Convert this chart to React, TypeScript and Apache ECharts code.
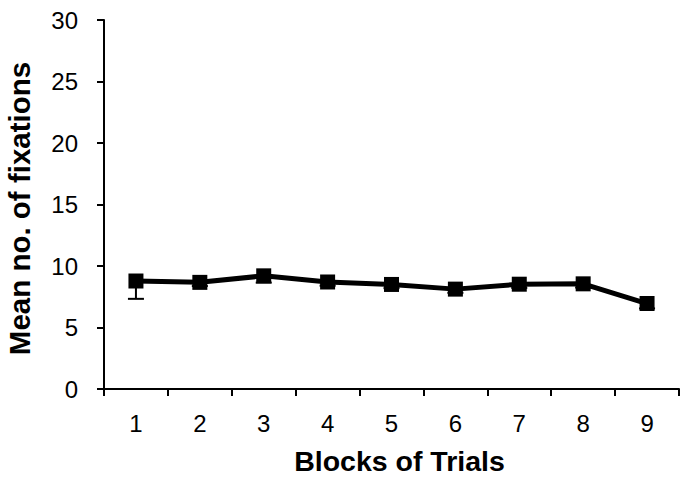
import React, { useEffect, useRef } from "react";
import * as echarts from "echarts";

const categories = ["1", "2", "3", "4", "5", "6", "7", "8", "9"];
const meanFixations = [8.78, 8.67, 9.2, 8.7, 8.5, 8.12, 8.52, 8.55, 6.95];
const errorMinus = [1.45, 0.3, 0.55, 0.3, 0.3, 0.3, 0.3, 0.3, 0.4];
const yTicks = { min: 0, max: 30, interval: 5 };

const FONT = "'Liberation Sans', Arial, sans-serif";

export default function App() {
  const ref = useRef<HTMLDivElement>(null);
  useEffect(() => {
    document.body.style.margin = "0";
    const chart = echarts.init(ref.current!, null, { renderer: "svg" });
    const errData = meanFixations.map((v, i) => [i, v, v - errorMinus[i]]);
    chart.setOption({
      animation: false,
      backgroundColor: "#ffffff",
      grid: { left: 104, right: 2, top: 20, bottom: 88, containLabel: false, outerBoundsMode: "none" },
      xAxis: {
        type: "category",
        data: categories,
        boundaryGap: true,
        name: "Blocks of Trials",
        nameLocation: "middle",
        nameGap: 58,
        nameTextStyle: { fontFamily: FONT, fontSize: 28.5, lineHeight: 28, fontWeight: "bold", color: "#000", padding: [0, 0, 0, 16] },
        axisLine: { show: true, lineStyle: { color: "#000", width: 2 } },
        axisTick: { show: true, inside: false, length: 7, lineStyle: { color: "#000", width: 2 } },
        axisLabel: { fontFamily: FONT, fontSize: 24, color: "#000", margin: 22 },
        splitLine: { show: false },
      },
      yAxis: {
        type: "value",
        min: yTicks.min,
        max: yTicks.max,
        interval: yTicks.interval,
        name: "Mean no. of fixations",
        nameLocation: "middle",
        nameGap: 70,
        nameRotate: 90,
        nameTextStyle: { fontFamily: FONT, fontSize: 29.5, fontWeight: "bold", color: "#000", padding: [0, 8, 0, 0] },
        axisLine: { show: true, lineStyle: { color: "#000", width: 2 } },
        axisTick: { show: true, inside: false, length: 7, lineStyle: { color: "#000", width: 2 } },
        axisLabel: { fontFamily: FONT, fontSize: 24, color: "#000", margin: 26 },
        splitLine: { show: false },
      },
      series: [
        {
          type: "custom",
          z: 1,
          data: errData,
          renderItem: (params: any, api: any) => {
            const x = api.value(0);
            const top = api.coord([x, api.value(1)]);
            const bot = api.coord([x, api.value(2)]);
            const cap = 8;
            return {
              type: "group",
              children: [
                { type: "line", shape: { x1: top[0], y1: top[1], x2: bot[0], y2: bot[1] }, style: { stroke: "#000", lineWidth: 2 } },
                { type: "line", shape: { x1: bot[0] - cap, y1: bot[1], x2: bot[0] + cap, y2: bot[1] }, style: { stroke: "#000", lineWidth: 2 } },
              ],
            };
          },
        },
        {
          type: "line",
          z: 3,
          data: meanFixations,
          symbol: "rect",
          symbolSize: 15,
          lineStyle: { color: "#000", width: 5 },
          itemStyle: { color: "#000" },
        },
      ],
    });
    return () => chart.dispose();
  }, []);
  return <div ref={ref} style={{ width: 681, height: 477 }} />;
}
